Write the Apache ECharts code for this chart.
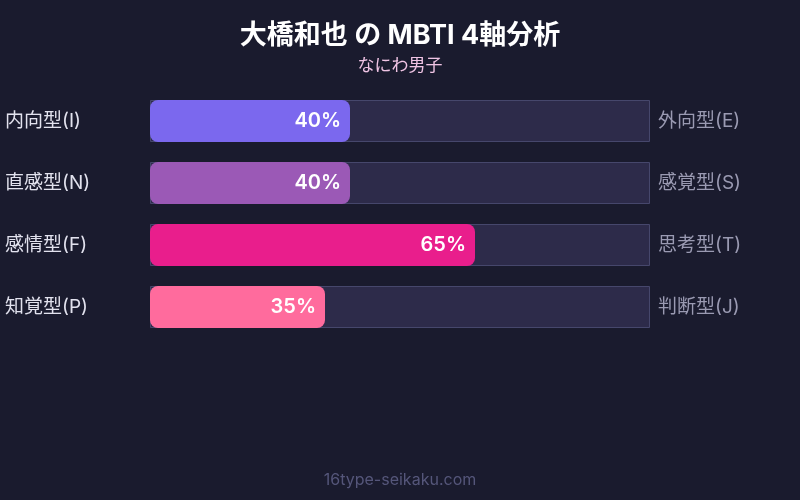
<!DOCTYPE html>
<html><head><meta charset="utf-8">
<script src="https://cdn.jsdelivr.net/npm/echarts@6/dist/echarts.min.js"></script>
<style>html,body{margin:0;padding:0;background:#1a1b2e;}#c{width:800px;height:500px;}</style>
</head><body><div id="c"></div>
<script>
const leftLabels = ['内向型(I)', '直感型(N)', '感情型(F)', '知覚型(P)'];
const rightLabels = ['外向型(E)', '感覚型(S)', '思考型(T)', '判断型(J)'];
const values = [40, 40, 65, 35];
const totals = [100, 100, 100, 100];
const colors = ['#7b68ee', '#9b59b6', '#e91e8c', '#ff6b9d'];

const FONT = 'Inter, "Noto Sans CJK JP", sans-serif';
const chart = echarts.init(document.getElementById('c'));
chart.setOption({
  backgroundColor: '#1a1b2e',
  textStyle: { fontFamily: FONT },
  title: [{
    text: '大橋和也 の MBTI 4軸分析',
    subtext: 'なにわ男子',
    left: 'center', top: 17,
    textStyle: { color: '#ffffff', fontSize: 27, fontWeight: 'bold', fontFamily: FONT },
    subtextStyle: { color: '#f0c4e4', fontSize: 17, fontFamily: FONT },
    itemGap: 8
  }, {
    text: '16type-seikaku.com',
    left: 'center', bottom: 7,
    textStyle: { color: '#55567a', fontSize: 16, fontWeight: 'normal', fontFamily: FONT }
  }],
  grid: { left: 150, width: 500, top: 90, height: 248 },
  xAxis: { type: 'value', min: 0, max: 100, show: false },
  yAxis: [{
    type: 'category', data: leftLabels, inverse: true, position: 'left',
    axisLine: { show: false }, axisTick: { show: false },
    axisLabel: { color: '#e2e2ee', fontSize: 19, align: 'left', margin: 145, fontFamily: FONT }
  }, {
    type: 'category', data: rightLabels, inverse: true, position: 'right',
    axisLine: { show: false }, axisTick: { show: false },
    axisLabel: { color: '#9a9ab2', fontSize: 19, align: 'left', margin: 8, fontFamily: FONT }
  }],
  series: [{
    type: 'bar', data: totals, barWidth: 42, silent: true,
    itemStyle: { color: '#2d2b4a', borderColor: '#46476c', borderWidth: 1 },
    z: 1
  }, {
    type: 'bar', barGap: '-100%', barWidth: 42, z: 2,
    data: values.map((v, i) => ({ value: v, itemStyle: { color: colors[i] } })),
    itemStyle: { borderRadius: 8 },
    label: {
      show: true, position: 'insideRight', distance: 9,
      formatter: '{c}%', color: '#ffffff', fontSize: 20, fontWeight: 600, fontFamily: FONT
    }
  }]
});
</script></body></html>
